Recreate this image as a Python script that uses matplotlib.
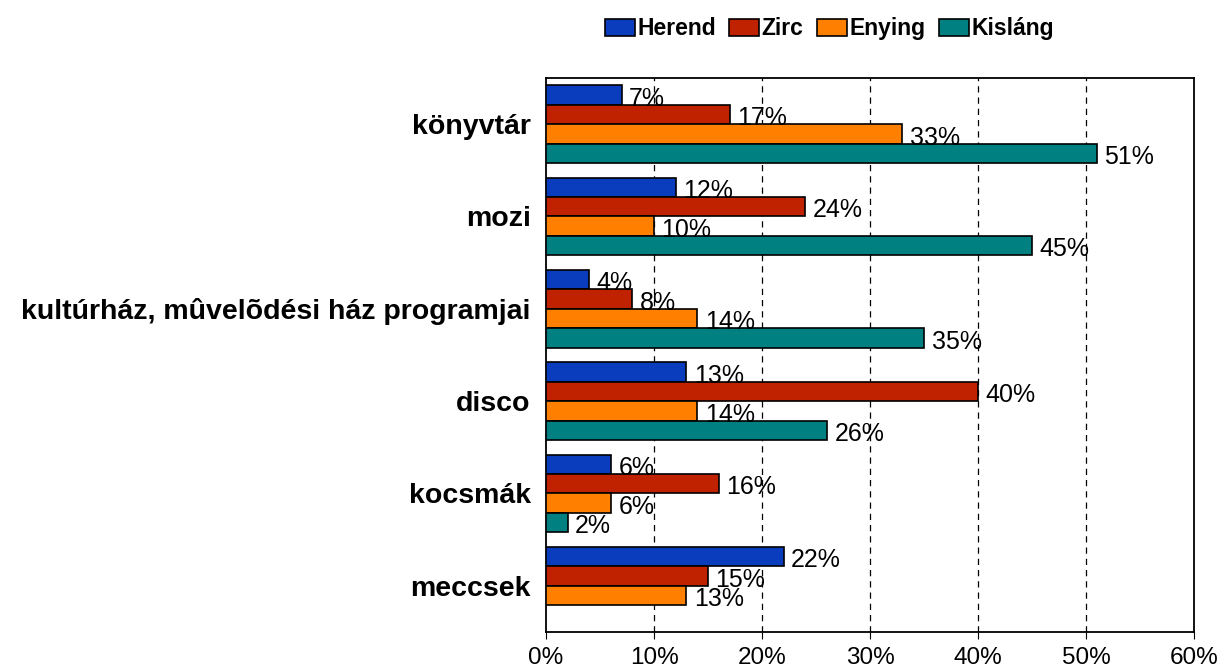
import numpy as np
import matplotlib.pyplot as plt
from matplotlib.ticker import PercentFormatter

plt.rcParams['font.family'] = ['Liberation Sans', 'DejaVu Sans']

categories = ['könyvtár', 'mozi', 'kultúrház, mûvelõdési ház programjai',
              'disco', 'kocsmák', 'meccsek']
series = ['Herend', 'Zirc', 'Enying', 'Kisláng']
herend = [7, 12, 4, 13, 6, 22]
zirc = [17, 24, 8, 40, 16, 15]
enying = [33, 10, 14, 14, 6, 13]
kislang = [51, 45, 35, 26, 2, np.nan]
colors = ['#0A3CBE', '#C02200', '#FF8000', '#008080']

values = [herend, zirc, enying, kislang]

fig = plt.figure(figsize=(12.18, 6.67), dpi=100)
ax = fig.add_axes([0.4483, 0.0525, 0.532, 0.8306])

y = np.arange(len(categories))
h = 0.211
for i, (name, vals, c) in enumerate(zip(series, values, colors)):
    pos = y - 1.5 * h + i * h
    ax.barh(pos, vals, height=h, color=c, edgecolor='black', linewidth=1.2,
            label=name, zorder=3)
    for p, v in zip(pos, vals):
        if np.isnan(v):
            continue
        ax.text(v + 0.7, p + 0.04, f'{v:.0f}%', va='center', ha='left',
                fontsize=18, zorder=4)

ax.set_xlim(0, 60)
ax.set_ylim(len(categories) - 0.5, -0.5)
ax.set_xticks(np.arange(0, 61, 10))
ax.xaxis.set_major_formatter(PercentFormatter(decimals=0))
ax.set_yticks(y)
ax.set_yticklabels(categories, fontsize=20.5, fontweight='bold')
ax.tick_params(axis='y', length=0, pad=11)
ax.tick_params(axis='x', labelsize=17.5, length=5, direction='out', pad=6)
for x in range(10, 60, 10):
    ax.axvline(x, color='black', linestyle=(0, (5, 4)), linewidth=0.9, zorder=1)
for s in ax.spines.values():
    s.set_linewidth(1.3)

fig.legend(loc='upper center', bbox_to_anchor=(0.681, 1.005), ncol=4, frameon=False,
           prop={'weight': 'bold', 'size': 16.5}, handlelength=1.3, handleheight=0.8,
           handletextpad=0.1, columnspacing=0.6)

fig.savefig('out.png', dpi=100)
